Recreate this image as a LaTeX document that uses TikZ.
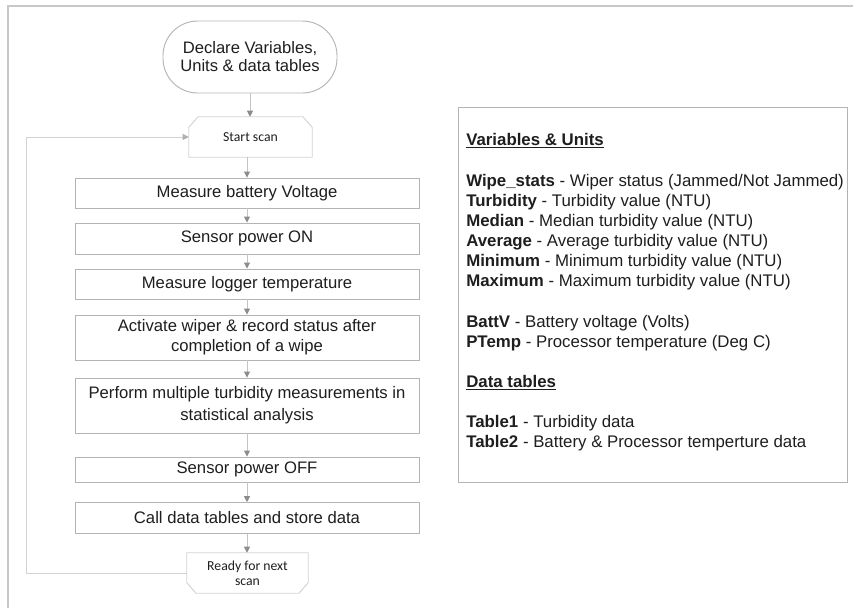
\documentclass[tikz,border=0pt]{standalone}
\usepackage{fontspec}
\setmainfont{Liberation Sans}
\newfontfamily\calib{Carlito}
\usetikzlibrary{arrows.meta}
\definecolor{txt}{HTML}{1E1E1E}
\definecolor{boxline}{HTML}{B4B4B4}
\definecolor{loopline}{HTML}{D2D2D2}
\definecolor{arrline}{HTML}{C4C4C4}
\definecolor{arrhead}{HTML}{8C8C8C}
\definecolor{frameline}{HTML}{C8C8C8}
\begin{document}
\begin{tikzpicture}[x=0.75pt,y=-0.75pt,
  every node/.style={text=txt},
  term/.style={draw=boxline, line width=0.7pt, rounded corners=26pt, minimum width=130.5pt, minimum height=54pt, align=center, inner sep=0pt, font=\fontsize{12.45}{13.5}\selectfont},
  procbox/.style={draw=boxline, line width=0.7pt, minimum width=258pt, align=center, inner sep=0pt, font=\fontsize{12.5}{15}\selectfont},
  loopbox/.style={draw=none, minimum height=30pt, align=center, inner sep=0pt, font=\calib\fontsize{10.3}{11.25}\selectfont},
  loopedge/.style={draw=loopline, line width=0.7pt},
  flow/.style={draw=arrline, line width=0.7pt, -{Triangle[length=4.5pt,width=4.5pt,color=arrhead]}},
  loopflow/.style={draw=loopline, line width=0.7pt, -{Triangle[length=4.5pt,width=4.5pt,color=arrhead!70]}},
  leg/.style={anchor=base west, inner sep=0pt, font=\fontsize{12.62}{15}\selectfont}
]
\useasboundingbox (0,0) rectangle (853,608);
\draw[frameline, line width=1.2pt] (853,6) -- (8,6) -- (8,608);

% flowchart
\node[term] (declare) at (250,57) {Declare Variables,\\Units \& data tables};
\node[loopbox, minimum width=92.25pt] (start) at (250.5,137) {Start scan};
\draw[loopedge] ([xshift=7pt]start.north west) -- ([xshift=-7pt]start.north east) -- ([yshift=-8pt]start.north east) -- (start.south east) -- (start.south west) -- ([yshift=-8pt]start.north west) -- cycle;

\node[procbox, minimum height=22.5pt] (b1) at (247,193) {Measure battery Voltage};
\node[procbox, minimum height=23.25pt] (b2) at (247,238.5) {Sensor power ON};
\node[procbox, minimum height=22.5pt] (b3) at (247,284) {Measure logger temperature};
\node[procbox, minimum height=33.75pt] (b4) at (247,337.5) {Activate wiper \& record status after\\completion of a wipe};
\node[procbox, minimum height=41.25pt, font=\fontsize{12.5}{16.5}\selectfont] (b5) at (247,405.5) {Perform multiple turbidity measurements in\\statistical analysis};
\node[procbox, minimum height=18.75pt] (b6) at (247,469.5) {Sensor power OFF};
\node[procbox, minimum height=23pt] (b7) at (247,518) {Call data tables and store data};

\node[loopbox, minimum width=90.75pt] (ready) at (247.5,573) {Ready for next\\scan};
\draw[loopedge] (ready.north west) -- (ready.north east) -- ([yshift=8pt]ready.south east) -- ([xshift=-7pt]ready.south east) -- ([xshift=7pt]ready.south west) -- ([yshift=8pt]ready.south west) -- cycle;

\draw[flow] (declare.south) -- (declare.south |- start.north);
\draw[flow] (start.south -| b1.north) -- (b1.north);
\draw[flow] (b1) -- (b2);
\draw[flow] (b2) -- (b3);
\draw[flow] (b3) -- (b4);
\draw[flow] (b4) -- (b5);
\draw[flow] (b5) -- (b6);
\draw[flow] (b6) -- (b7);
\draw[flow] (b7.south) -- (b7.south |- ready.north);

\coordinate (loopbl) at (26,573);
\coordinate (looptl) at (26,137);
\draw[loopflow] (ready.west) -- (loopbl) -- (looptl) -- (start.west);

% legend
\node[draw=boxline, line width=0.7pt, minimum width=291.75pt, minimum height=281.25pt, inner sep=0pt] (legend) at (652.5,294.5) {};
\node[leg] (h1) at (466,145) {\textbf{\underline{Variables \& Units}}};
\node[leg] (v1) at (466,186.5) {\textbf{Wipe\_stats} - Wiper status (Jammed/Not Jammed)};
\node[leg] (v2) at (466,206.5) {\textbf{Turbidity} - Turbidity value (NTU)};
\node[leg] (v3) at (466,226.5) {\textbf{Median} - Median turbidity value (NTU)};
\node[leg] (v4) at (466,246.5) {\textbf{Average} - Average turbidity value (NTU)};
\node[leg] (v5) at (466,266.5) {\textbf{Minimum} - Minimum turbidity value (NTU)};
\node[leg] (v6) at (466,286.5) {\textbf{Maximum} - Maximum turbidity value (NTU)};
\node[leg] (v7) at (466,327.5) {\textbf{BattV} - Battery voltage (Volts)};
\node[leg] (v8) at (466,347.5) {\textbf{PTemp} - Processor temperature (Deg C)};
\node[leg] (h2) at (466,387) {\textbf{\underline{Data tables}}};
\node[leg] (t1) at (466,427) {\textbf{Table1} - Turbidity data};
\node[leg] (t2) at (466,447) {\textbf{Table2} - Battery \& Processor temperture data};
\end{tikzpicture}
\end{document}
